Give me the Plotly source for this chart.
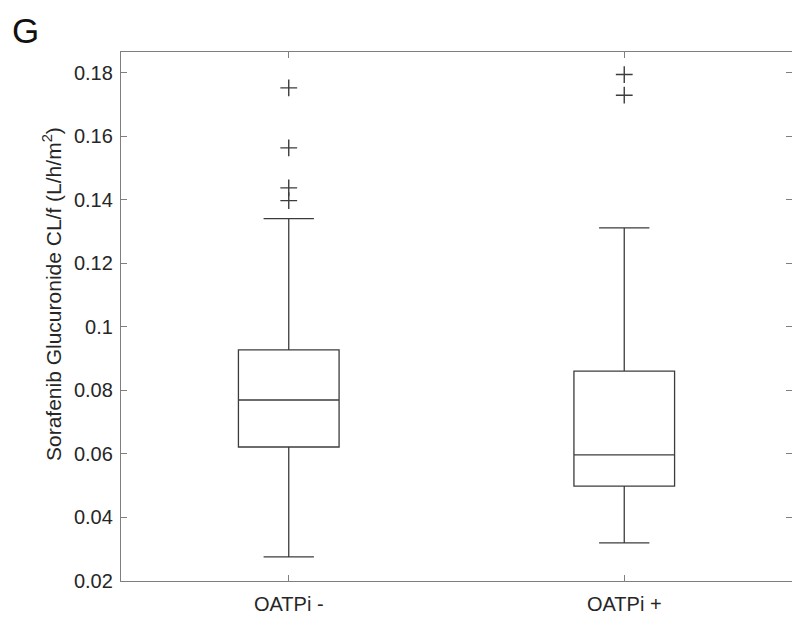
import plotly.graph_objects as go

groups = ["OATPi -", "OATPi +"]
q1 = [0.0622, 0.0499]
median = [0.0770, 0.0597]
q3 = [0.0928, 0.0861]
whisker_low = [0.0276, 0.0320]
whisker_high = [0.1341, 0.1312]
outliers = [
    [0.1753, 0.1564, 0.1438, 0.1398],
    [0.1795, 0.1730],
]
y_ticks = [0.02, 0.04, 0.06, 0.08, 0.1, 0.12, 0.14, 0.16, 0.18]

line_col = "#3c3c3c"
axis_col = "#7f7f7f"
font_fam = "Liberation Sans, Arial, sans-serif"

fig = go.Figure()
fig.add_trace(
    go.Box(
        x=groups,
        q1=q1,
        median=median,
        q3=q3,
        lowerfence=whisker_low,
        upperfence=whisker_high,
        width=0.3,
        whiskerwidth=0.5,
        fillcolor="rgba(255,255,255,0)",
        line=dict(color=line_col, width=1.3),
        boxpoints=False,
        hoverinfo="y",
    )
)

# outliers drawn as "+" markers
ox, oy = [], []
for g, vals in zip(groups, outliers):
    for v in vals:
        ox.append(g)
        oy.append(v)
fig.add_trace(
    go.Scatter(
        x=ox,
        y=oy,
        mode="markers",
        marker=dict(symbol="cross-thin", size=12, line=dict(width=1.4, color=line_col)),
        hoverinfo="y",
    )
)

# page body has an 8px margin, so the figure is 8px smaller than the window
fig.update_layout(
    width=792,
    height=611,
    showlegend=False,
    plot_bgcolor="white",
    paper_bgcolor="white",
    margin=dict(l=113, r=8, t=44, b=38, pad=0, autoexpand=False),
    font=dict(family=font_fam, size=20, color="#262626"),
    annotations=[
        dict(
            text="G",
            x=-0.165,
            y=1.082,
            xref="paper",
            yref="paper",
            xanchor="left",
            yanchor="top",
            showarrow=False,
            font=dict(size=35, color="#111111"),
        ),
        # y-axis title placed as in the original (slightly above centre)
        dict(
            text="Sorafenib Glucuronide CL/f (L/h/m<sup>2</sup>)",
            x=-0.1028,
            y=0.5425,
            xref="paper",
            yref="paper",
            xanchor="center",
            yanchor="middle",
            textangle=-90,
            showarrow=False,
            font=dict(size=21, color="#262626"),
        ),
    ],
)
fig.update_xaxes(
    type="category",
    range=[-0.5, 1.5],
    showline=True,
    linecolor=axis_col,
    linewidth=1.3,
    mirror="ticks",
    ticks="inside",
    ticklen=6,
    tickcolor=axis_col,
    tickfont=dict(size=20),
    ticklabelstandoff=5,
    showgrid=False,
    zeroline=False,
)
fig.update_yaxes(
    range=[0.02, 0.1866],
    tickvals=y_ticks,
    showline=True,
    linecolor=axis_col,
    linewidth=1.3,
    mirror="ticks",
    ticks="inside",
    ticklen=6,
    tickcolor=axis_col,
    tickfont=dict(size=20),
    ticklabelstandoff=3,
    showgrid=False,
    zeroline=False,
)

fig.write_html("out.html")
